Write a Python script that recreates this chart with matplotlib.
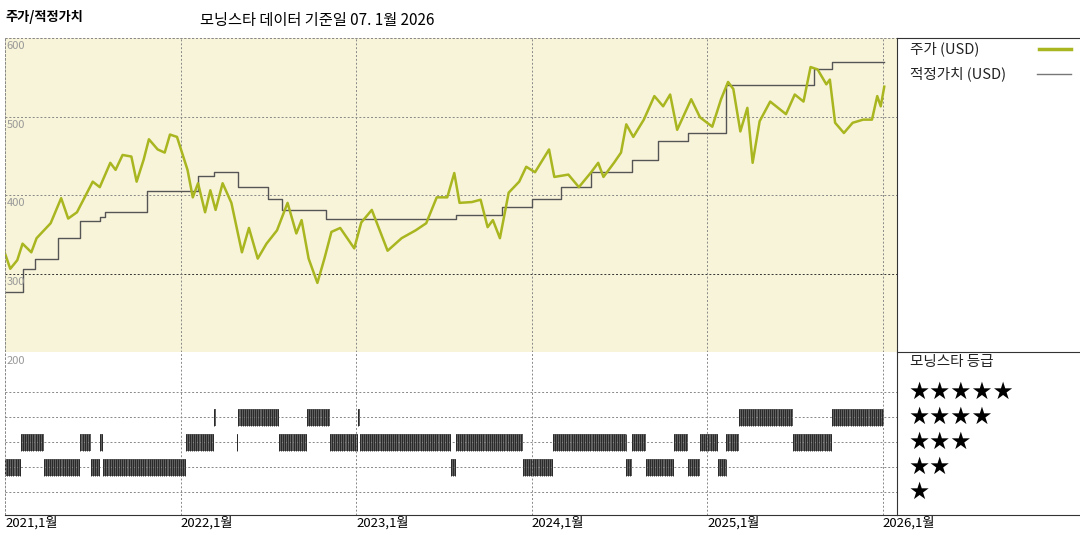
import numpy as np
import matplotlib
matplotlib.use("Agg")
from matplotlib import pyplot as plt

plt.rcParams['font.family'] = ['Noto Sans CJK KR', 'DejaVu Sans']

# price (USD), x in fractional years
price_t = [2020.99, 2021.03, 2021.07, 2021.10, 2021.15, 2021.18, 2021.26, 2021.32, 2021.36, 2021.41,
           2021.50, 2021.54, 2021.60, 2021.63, 2021.67, 2021.72, 2021.75, 2021.79, 2021.82, 2021.87,
           2021.91, 2021.94, 2021.98, 2022.04, 2022.07, 2022.10, 2022.14, 2022.17, 2022.20, 2022.24,
           2022.29, 2022.35, 2022.39, 2022.44, 2022.49, 2022.55, 2022.61, 2022.66, 2022.69, 2022.73,
           2022.78, 2022.82, 2022.86, 2022.91, 2022.99, 2023.03, 2023.09, 2023.18, 2023.26, 2023.34,
           2023.40, 2023.46, 2023.52, 2023.56, 2023.59, 2023.66, 2023.71, 2023.75, 2023.78, 2023.82,
           2023.87, 2023.93, 2023.97, 2024.02, 2024.10, 2024.13, 2024.21, 2024.27, 2024.34, 2024.38,
           2024.41, 2024.47, 2024.51, 2024.54, 2024.58, 2024.64, 2024.70, 2024.75, 2024.79, 2024.83,
           2024.91, 2024.96, 2025.03, 2025.08, 2025.12, 2025.15, 2025.19, 2025.23, 2025.26, 2025.30,
           2025.36, 2025.45, 2025.50, 2025.55, 2025.59, 2025.63, 2025.68, 2025.70, 2025.73, 2025.78,
           2025.83, 2025.89, 2025.94, 2025.97, 2025.99, 2026.01]
price_v = [332, 306, 317, 338, 327, 345, 364, 396, 370, 378,
           417, 410, 441, 432, 451, 449, 417, 445, 471, 458,
           454, 477, 474, 432, 397, 415, 378, 406, 381, 415,
           390, 327, 358, 319, 338, 355, 390, 351, 368, 319,
           288, 319, 353, 358, 332, 365, 381, 329, 345, 355,
           364, 397, 397, 428, 390, 391, 394, 359, 368, 345,
           403, 417, 436, 429, 458, 423, 426, 410, 429, 441,
           423, 441, 454, 490, 474, 496, 526, 513, 528, 483,
           522, 499, 487, 522, 544, 535, 481, 511, 441, 494,
           519, 503, 528, 519, 563, 560, 541, 547, 492, 479,
           492, 496, 496, 526, 513, 538]

# fair value steps: start year, value
fair_t = [2021.00, 2021.10, 2021.17, 2021.30, 2021.43, 2021.54, 2021.57, 2021.81, 2022.10, 2022.19,
          2022.33, 2022.50, 2022.58, 2022.83, 2023.57, 2023.83, 2024.00, 2024.17, 2024.34, 2024.57,
          2024.72, 2024.89, 2025.11, 2025.61, 2025.71, 2026.01]
fair_v = [276, 306, 319, 345, 367, 372, 378, 405, 424, 429,
          410, 395, 381, 370, 375, 385, 395, 410, 429, 445,
          469, 479, 540, 560, 570, 570]

# morningstar rating periods (start, end, stars)
rating_start = [2021.00, 2021.09, 2021.22, 2021.43, 2021.49, 2021.54, 2021.56, 2022.03, 2022.19, 2022.32,
                2022.33, 2022.56, 2022.72, 2022.85, 2023.01, 2023.02, 2023.54, 2023.57, 2023.95, 2024.12,
                2024.54, 2024.57, 2024.65, 2024.81, 2024.89, 2024.96, 2025.06, 2025.11, 2025.18, 2025.49,
                2025.71]
rating_end = [2021.09, 2021.22, 2021.43, 2021.49, 2021.54, 2021.56, 2022.03, 2022.19, 2022.20, 2022.33,
              2022.56, 2022.72, 2022.85, 2023.01, 2023.02, 2023.54, 2023.57, 2023.95, 2024.12, 2024.54,
              2024.57, 2024.65, 2024.81, 2024.89, 2024.96, 2025.06, 2025.11, 2025.18, 2025.49, 2025.71,
              2026.01]
rating_star = [2, 3, 2, 3, 2, 3, 2, 3, 4, 3,
               4, 3, 4, 3, 4, 3, 2, 3, 2, 3,
               2, 3, 2, 3, 2, 3, 2, 3, 4, 3,
               4]

year_ticks = [2021, 2022, 2023, 2024, 2025, 2026]
year_labels = ['2021,1월', '2022,1월', '2023,1월', '2024,1월', '2025,1월', '2026,1월']

W, H = 1080, 540
fig = plt.figure(figsize=(10.8, 5.4), dpi=100)


def box(x0, y0, x1, y1):
    return [x0 / W, 1 - y1 / H, (x1 - x0) / W, (y1 - y0) / H]


X0, X1 = 5, 897
xmin = 2021.0
xmax = 2021.0 + (X1 - X0) / 175.5

grid_kw = dict(color='#888888', lw=0.7, ls=(0, (2, 2)))

# upper: price panel
ax = fig.add_axes(box(X0, 38, X1, 352))
ax.set_facecolor('#f8f4d9')
ax.set_xlim(xmin, xmax)
ax.set_ylim(200, 600)
for v in [300, 400, 500, 600]:
    ax.axhline(v, color='#333333' if v == 300 else '#888888', lw=0.7, ls=(0, (2, 2)))
for t in year_ticks:
    ax.axvline(t, **grid_kw)
ax.step(fair_t, fair_v, where='post', color='#555555', lw=1.0)
ax.plot(price_t, price_v, color='#a9b620', lw=1.8)
for v in [300, 400, 500, 600]:
    ax.text(xmin + 0.01, v - 4, str(v), color='#999999', fontsize=8, va='top', ha='left')
ax.set_xticks([]); ax.set_yticks([])
for s in ax.spines.values():
    s.set_visible(False)

# lower: rating panel
ax2 = fig.add_axes(box(X0, 352, X1, 515))
ax2.set_xlim(xmin, xmax)
ax2.set_ylim(0.08, 6.6)
for r in [1, 2, 3, 4, 5]:
    ax2.axhline(r, **grid_kw)
for t in year_ticks:
    ax2.axvline(t, **grid_kw)
for s, e, r in zip(rating_start, rating_end, rating_star):
    ax2.broken_barh([(s, max(e - s, 0.006))], (r - 0.34, 0.68), facecolor='#606060', edgecolor='none')
    ticks = np.arange(s, e, 0.012)
    ax2.vlines(ticks, r - 0.34, r + 0.34, color='#202020', lw=0.6)
ax2.text(xmin + 0.01, 6.45, '200', color='#999999', fontsize=8, va='top', ha='left')
ax2.set_xticks(year_ticks)
ax2.set_xticklabels(year_labels, fontsize=9.5, ha='left')
ax2.tick_params(axis='x', length=0, pad=1)
ax2.set_yticks([])
for k in ['top', 'left', 'right']:
    ax2.spines[k].set_visible(False)
ax2.spines['bottom'].set_color('#333333')

# frame lines and legend panel
ov = fig.add_axes([0, 0, 1, 1])
ov.set_xlim(0, W); ov.set_ylim(H, 0)
ov.axis('off')
ov.plot([897, W], [38, 38], color='#333333', lw=0.8)
ov.plot([X0, 897], [38, 38], **grid_kw)
ov.plot([X0, X0], [38, 515], **grid_kw)
ov.plot([897, 897], [38, 515], color='#333333', lw=0.8)
ov.plot([897, W], [352, 352], color='#333333', lw=0.8)
ov.plot([897, W], [515, 515], color='#333333', lw=0.8)

ov.text(5, 17, '주가/적정가치', fontsize=9.5, fontweight='bold', va='center')
ov.text(200, 20, '모닝스타 데이터 기준일 07. 1월 2026', fontsize=11, va='center')
ov.text(910, 49, '주가 (USD)', fontsize=10.5, va='center', color='#222222')
ov.plot([1039, 1071], [49, 49], color='#a9b620', lw=2.5)
ov.text(910, 74, '적정가치 (USD)', fontsize=10.5, va='center', color='#222222')
ov.plot([1037, 1071], [74, 74], color='#777777', lw=1.0)
ov.text(910, 362, '모닝스타 등급', fontsize=10.5, va='center', color='#222222')
for r in [5, 4, 3, 2, 1]:
    y = 492 - (r - 1) * 25
    ov.text(908, y, '★' * r, fontsize=17, va='center', ha='left', family=['DejaVu Sans'])

fig.savefig('out.png', dpi=100)
